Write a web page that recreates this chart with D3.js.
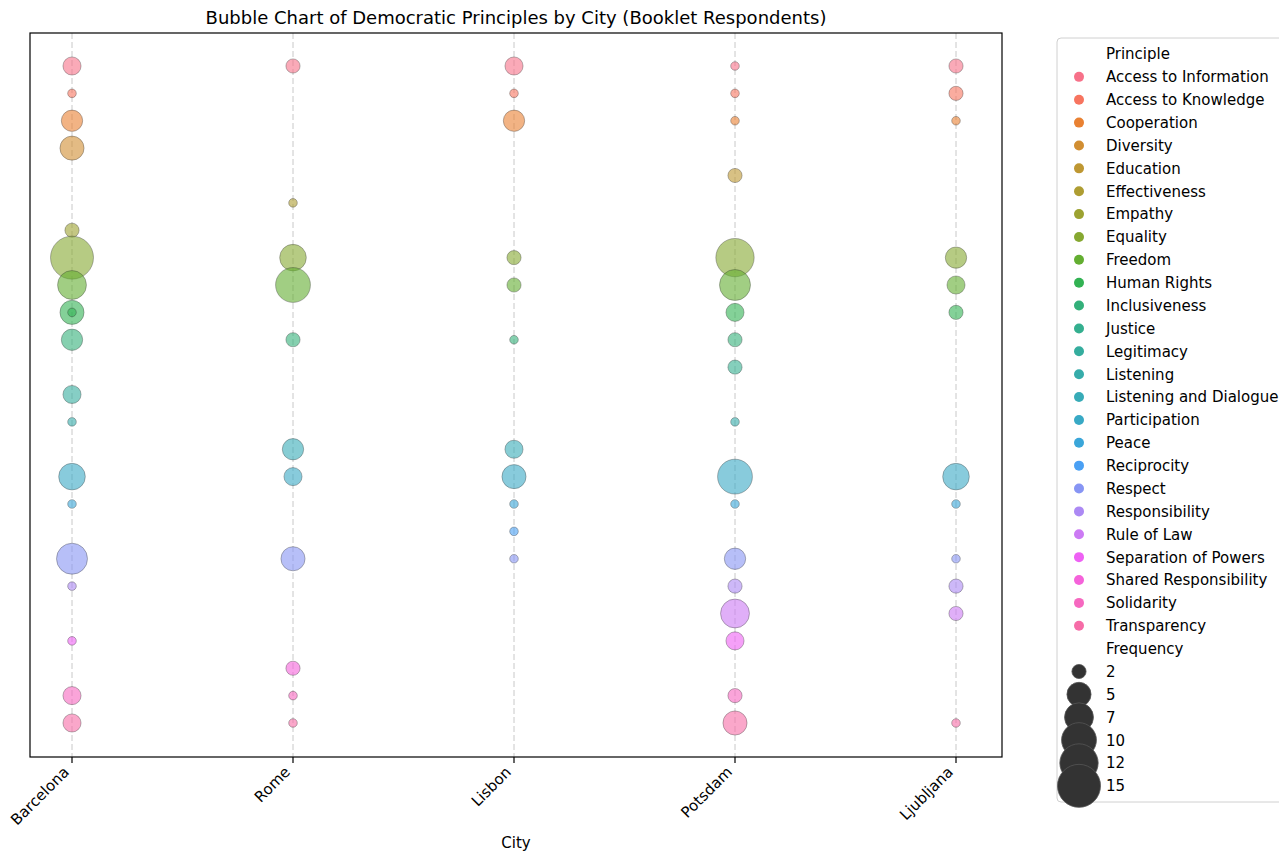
<!DOCTYPE html>
<html><head><meta charset="utf-8">
<script src="https://cdn.jsdelivr.net/npm/d3@7"></script>
<style>body{margin:0;background:#fff;} text{font-family:"DejaVu Sans",sans-serif;}</style>
</head><body><svg id="chart" width="1279" height="851"></svg>
<script>
// ---------------- data ----------------
const cities = ["Barcelona", "Rome", "Lisbon", "Potsdam", "Ljubljana"];
const principles = ["Access to Information","Access to Knowledge","Cooperation","Diversity","Education",
  "Effectiveness","Empathy","Equality","Freedom","Human Rights","Inclusiveness","Justice","Legitimacy",
  "Listening","Listening and Dialogue","Participation","Peace","Reciprocity","Respect","Responsibility",
  "Rule of Law","Separation of Powers","Shared Responsibility","Solidarity","Transparency"];
const barcelona = [["Access to Information",3],["Access to Knowledge",1],["Cooperation",4],["Diversity",5],
  ["Empathy",2],["Equality",15],["Freedom",7],["Human Rights",5],["Human Rights",1],["Inclusiveness",4],
  ["Legitimacy",3],["Listening",1],["Participation",6],["Peace",1],["Respect",8],["Responsibility",1],
  ["Separation of Powers",1],["Solidarity",3],["Transparency",3]];
const rome = [["Access to Information",2],["Effectiveness",1],["Equality",6],["Freedom",10],["Inclusiveness",2],
  ["Listening and Dialogue",4],["Participation",3],["Respect",5],["Shared Responsibility",2],["Solidarity",1],
  ["Transparency",1]];
const lisbon = [["Access to Information",3],["Access to Knowledge",1],["Cooperation",4],["Equality",2],["Freedom",2],
  ["Inclusiveness",1],["Listening and Dialogue",3],["Participation",5],["Peace",1],["Reciprocity",1],["Respect",1]];
const potsdam = [["Access to Information",1],["Access to Knowledge",1],["Cooperation",1],["Education",2],["Equality",12],
  ["Freedom",8],["Human Rights",3],["Inclusiveness",2],["Justice",2],["Listening",1],["Participation",10],["Peace",1],
  ["Respect",4],["Responsibility",2],["Rule of Law",7],["Separation of Powers",3],["Solidarity",2],["Transparency",5]];
const ljubljana = [["Access to Information",2],["Access to Knowledge",2],["Cooperation",1],["Equality",4],["Freedom",3],
  ["Human Rights",2],["Participation",6],["Peace",1],["Respect",1],["Responsibility",2],["Rule of Law",2],["Transparency",1]];
const sizeLegendValues = [2, 5, 7, 10, 12, 15];
const frequencyExtent = [1, 15];

// ---------------- husl palette (seaborn husl_palette) ----------------
const M = [[3.240969941904521,-1.537383177570093,-0.498610760293],
           [-0.96924363628087,1.87596750150772,0.041555057407175],
           [0.055630079696993,-0.20397695888897,1.056971514242878]];
const refU = 0.19783000664283, refV = 0.46831999493879, kappa = 903.2962962, eps = 0.0088564516;
function maxChroma(L, H) {
  const hr = H / 360 * 2 * Math.PI, s = Math.sin(hr), c = Math.cos(hr);
  const sub1 = Math.pow(L + 16, 3) / 1560896;
  const sub2 = sub1 > eps ? sub1 : L / kappa;
  let res = Infinity;
  for (const [m1, m2, m3] of M) {
    const top = (0.99915*m1 + 1.05122*m2 + 1.14460*m3) * sub2;
    const rb = 0.86330*m3 - 0.17266*m2;
    const lb = 0.12949*m3 - 0.38848*m1;
    const bottom = (rb*s + lb*c) * sub2;
    for (const t of [0, 1]) {
      const C = L * (top - 1.05122*t) / (bottom + 0.17266*s*t);
      if (C > 0 && C < res) res = C;
    }
  }
  return res;
}
function husl(H, S, L) {
  const C = maxChroma(L, H) / 100 * S;
  const hr = H / 360 * 2 * Math.PI;
  const U = Math.cos(hr) * C, V = Math.sin(hr) * C;
  const t = (L + 16) / 116;
  const Y = t*t*t > eps ? t*t*t : L / kappa;
  const vU = U / (13*L) + refU, vV = V / (13*L) + refV;
  const X = -(9*Y*vU) / ((vU - 4)*vV - vU*vV);
  const Z = (9*Y - 15*vV*Y - vV*X) / (3*vV);
  const lin = M.map(r => r[0]*X + r[1]*Y + r[2]*Z);
  const rgb = lin.map(v => v <= 0.0031308 ? 12.92*v : 1.055*Math.pow(v, 1/2.4) - 0.055)
                 .map(v => Math.max(0, Math.min(1, v)) * 255);
  return d3.rgb(rgb[0], rgb[1], rgb[2]).formatHex();
}
const palette = principles.map((p, i) => husl(((i / principles.length + 0.01) % 1) * 359, 0.9*99, 0.65*99));

// ---------------- layout ----------------
const svg = d3.select("#chart");
const plot = {left: 30, right: 1002, top: 33, bottom: 757};

const x = d3.scalePoint().domain(cities).range([72, 956]);
const y = d3.scalePoint().domain(principles).range([66, 723]);
const color = d3.scaleOrdinal().domain(principles).range(palette);
const area = d3.scaleLinear().domain(frequencyExtent).range([74, 1849]);
const radius = f => Math.sqrt(area(f)) / 2;

// grid
svg.append("g").selectAll("line").data(cities).join("line")
  .attr("x1", d => x(d)).attr("x2", d => x(d))
  .attr("y1", plot.top).attr("y2", plot.bottom)
  .attr("stroke", "#c8c8c8").attr("stroke-width", 1).attr("stroke-dasharray", "6,3");

// points
const byCity = {Barcelona: barcelona, Rome: rome, Lisbon: lisbon, Potsdam: potsdam, Ljubljana: ljubljana};
const points = [];
cities.forEach(c => byCity[c].forEach(([p, f]) => points.push({city: c, principle: p, freq: f})));
points.sort((a, b) => principles.indexOf(a.principle) - principles.indexOf(b.principle));

svg.append("g").selectAll("circle").data(points).join("circle")
  .attr("cx", d => x(d.city)).attr("cy", d => y(d.principle))
  .attr("r", d => radius(d.freq))
  .attr("fill", d => color(d.principle)).attr("fill-opacity", 0.6)
  .attr("stroke", "#333").attr("stroke-opacity", 0.35).attr("stroke-width", 1);

// frame
svg.append("rect").attr("x", plot.left).attr("y", plot.top)
  .attr("width", plot.right - plot.left).attr("height", plot.bottom - plot.top)
  .attr("fill", "none").attr("stroke", "#000").attr("stroke-width", 1.2);

// x axis ticks & labels
const xg = svg.append("g");
xg.selectAll("line").data(cities).join("line")
  .attr("x1", d => x(d)).attr("x2", d => x(d))
  .attr("y1", plot.bottom).attr("y2", plot.bottom + 6)
  .attr("stroke", "#000").attr("stroke-width", 1.2);
xg.selectAll("text").data(cities).join("text")
  .attr("transform", d => `translate(${x(d) - 2},${plot.bottom + 16}) rotate(-45)`)
  .attr("text-anchor", "end").attr("font-size", 15).attr("fill", "#000")
  .text(d => d);

svg.append("text").attr("x", (plot.left + plot.right) / 2).attr("y", 848)
  .attr("text-anchor", "middle").attr("font-size", 15).text("City");

svg.append("text").attr("x", (plot.left + plot.right) / 2).attr("y", 24)
  .attr("text-anchor", "middle").attr("font-size", 18).text("Bubble Chart of Democratic Principles by City (Booklet Respondents)");

// legend
const lg = svg.append("g");
const rowH = 22.87, ly0 = 54, markerX = 1079, textX = 1106;
lg.append("rect").attr("x", 1057).attr("y", 38).attr("width", 260).attr("height", 764)
  .attr("rx", 4).attr("fill", "#fff").attr("fill-opacity", 0.8).attr("stroke", "#d0d0d0").attr("stroke-width", 1);
lg.append("text").attr("x", textX).attr("y", ly0).attr("dy", "0.36em").attr("font-size", 15).text("Principle");
principles.forEach((p, i) => {
  const yy = ly0 + (i + 1) * rowH;
  lg.append("circle").attr("cx", markerX).attr("cy", yy).attr("r", 5).attr("fill", color(p));
  lg.append("text").attr("x", textX).attr("y", yy).attr("dy", "0.36em").attr("font-size", 15).text(p);
});
const fy0 = ly0 + (principles.length + 1) * rowH;
lg.append("text").attr("x", textX).attr("y", fy0).attr("dy", "0.36em").attr("font-size", 15).text("Frequency");
sizeLegendValues.forEach((v, i) => {
  const yy = fy0 + (i + 1) * rowH;
  lg.append("circle").attr("cx", markerX).attr("cy", yy).attr("r", radius(v))
    .attr("fill", "#333").attr("stroke", "#555").attr("stroke-width", 0.8);
  lg.append("text").attr("x", textX).attr("y", yy).attr("dy", "0.36em").attr("font-size", 15).text(v);
});
</script></body></html>
